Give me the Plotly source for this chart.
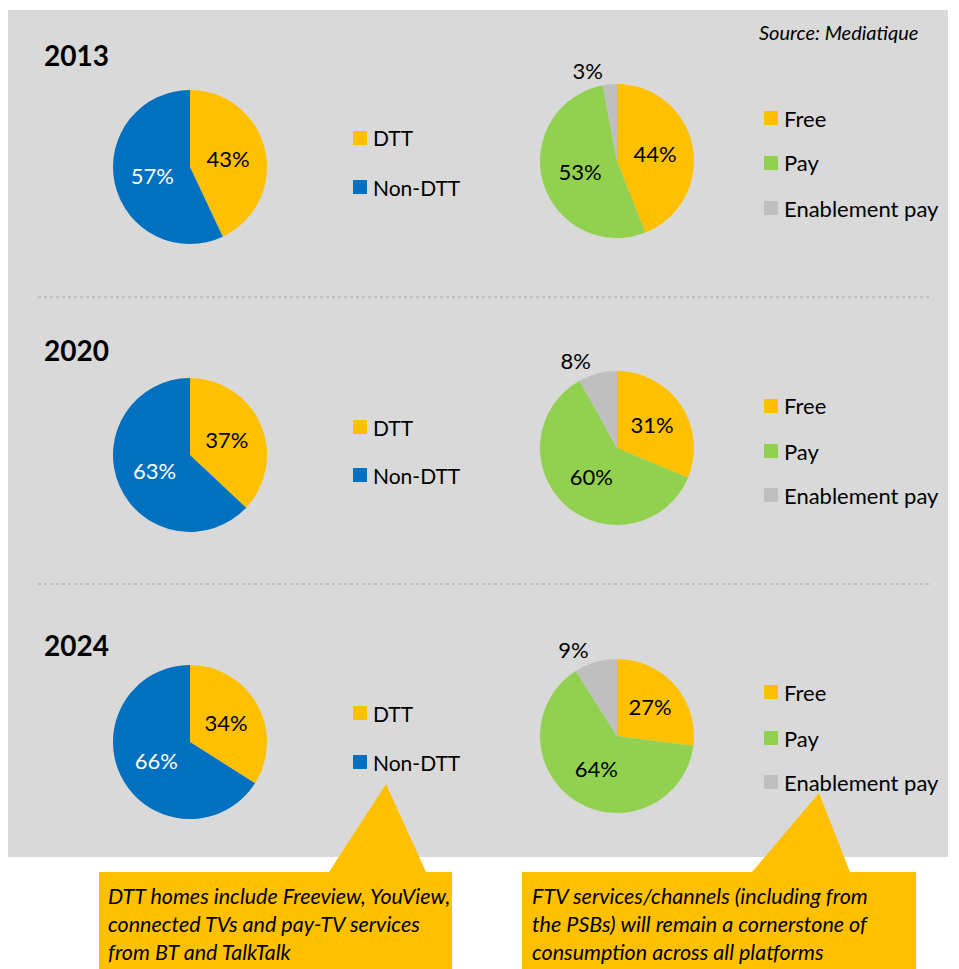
import plotly.graph_objects as go

# data
years = ['2013', '2020', '2024']
platform_labels = ['DTT', 'Non-DTT']
dtt_share = [43, 37, 34]
non_dtt_share = [57, 63, 66]
service_labels = ['Free', 'Pay', 'Enablement pay']
free_share = [44, 31, 27]
pay_share = [53, 60, 64]
enablement_share = [3, 8, 9]

source_note = 'Source: Mediatique'
callout_left = ['DTT homes include Freeview, YouView,',
                'connected TVs and pay-TV services',
                'from BT and TalkTalk']
callout_right = ['FTV services/channels (including from',
                 'the PSBs) will remain a cornerstone of',
                 'consumption across all platforms']

# page body has an 8px margin, so the figure is a bit smaller than the window
OFF = 8
W, H = 951, 961
FONT = 'Lato'
GOLD = '#FFC000'
BLUE = '#0070C0'
GREEN = '#92D050'
GREY = '#BFBFBF'
platform_colors = [GOLD, BLUE]
service_colors = [GOLD, GREEN, GREY]


def px(x):
    return (x - OFF) / W


def py(y):
    return 1 - (y - OFF) / H


# panel positions in window pixels
year_y = [55, 350, 645]
left_cy = [167, 455, 742]
right_cy = [161, 448, 736]
left_cx, right_cx, R = 190, 617, 77
left_leg_y = [[138, 187], [427, 475], [713, 762]]
right_leg_y = [[118, 163, 208], [406, 451, 495], [692, 738, 782]]

fig = go.Figure()
shapes = []
annotations = []

# grey panel background
shapes.append(dict(type='rect', xref='paper', yref='paper', layer='below',
                   x0=px(8), x1=px(948), y0=py(857), y1=py(10),
                   fillcolor='#D9D9D9', line=dict(width=0)))
for sep in [297, 584]:
    shapes.append(dict(type='line', xref='paper', yref='paper', layer='below',
                       x0=px(38), x1=px(930), y0=py(sep), y1=py(sep),
                       line=dict(color='#A6A6A6', width=1, dash='dot')))

for i, yr in enumerate(years):
    fig.add_trace(go.Pie(
        labels=platform_labels, values=[dtt_share[i], non_dtt_share[i]],
        sort=False, direction='clockwise', rotation=0,
        marker=dict(colors=platform_colors, line=dict(width=0)),
        texttemplate='%{value}%', textposition='inside',
        insidetextorientation='horizontal',
        textfont=dict(family=FONT, size=22, color=['black', 'white']),
        domain=dict(x=[px(left_cx - R), px(left_cx + R)],
                    y=[py(left_cy[i] + R), py(left_cy[i] - R)]),
        hoverinfo='skip', showlegend=False))
    fig.add_trace(go.Pie(
        labels=service_labels,
        values=[free_share[i], pay_share[i], enablement_share[i]],
        sort=False, direction='clockwise', rotation=0,
        marker=dict(colors=service_colors, line=dict(width=0)),
        texttemplate='%{value}%', textposition=['inside', 'inside', 'outside'],
        insidetextorientation='horizontal',
        textfont=dict(family=FONT, size=22, color='black'),
        domain=dict(x=[px(right_cx - R), px(right_cx + R)],
                    y=[py(right_cy[i] + R), py(right_cy[i] - R)]),
        hoverinfo='skip', showlegend=False))

    annotations.append(dict(text='<b>%s</b>' % yr, x=px(42), y=py(year_y[i]),
                            xanchor='left', yanchor='middle', showarrow=False,
                            font=dict(family=FONT, size=28, color='black')))

    # legends
    for lab, col, ly in zip(platform_labels, platform_colors, left_leg_y[i]):
        shapes.append(dict(type='rect', xref='paper', yref='paper',
                           x0=px(353), x1=px(367), y0=py(ly + 7), y1=py(ly - 7),
                           fillcolor=col, line=dict(width=0)))
        annotations.append(dict(text=lab, x=px(371), y=py(ly), xanchor='left',
                                yanchor='middle', showarrow=False,
                                font=dict(family=FONT, size=21, color='black')))
    for lab, col, ly in zip(service_labels, service_colors, right_leg_y[i]):
        shapes.append(dict(type='rect', xref='paper', yref='paper',
                           x0=px(764), x1=px(778), y0=py(ly + 7), y1=py(ly - 7),
                           fillcolor=col, line=dict(width=0)))
        annotations.append(dict(text=lab, x=px(782), y=py(ly), xanchor='left',
                                yanchor='middle', showarrow=False,
                                font=dict(family=FONT, size=22, color='black')))


# callout boxes
def callout(pts):
    d = 'M ' + ' L '.join('%f,%f' % (px(x), py(y)) for x, y in pts) + ' Z'
    return dict(type='path', xref='paper', yref='paper', path=d,
                fillcolor=GOLD, line=dict(width=0))


shapes.append(callout([(99, 872), (329, 872), (386, 784), (426, 872), (452, 872),
                       (452, 975), (99, 975)]))
shapes.append(callout([(522, 872), (752, 872), (819, 793), (850, 872), (916, 872),
                       (916, 975), (522, 975)]))

annotations.append(dict(text='<i>' + '<br>'.join(callout_left) + '</i>',
                        x=px(106), y=py(881), xanchor='left', yanchor='top',
                        align='left', showarrow=False,
                        font=dict(family=FONT, size=21.5, color='black')))
annotations.append(dict(text='<i>' + '<br>'.join(callout_right) + '</i>',
                        x=px(530), y=py(881), xanchor='left', yanchor='top',
                        align='left', showarrow=False,
                        font=dict(family=FONT, size=21.5, color='black')))
annotations.append(dict(text='<i>%s</i>' % source_note, x=px(920), y=py(32),
                        xanchor='right', yanchor='middle', showarrow=False,
                        font=dict(family=FONT, size=20, color='black')))

fig.update_layout(width=W, height=H, margin=dict(l=0, r=0, t=0, b=0),
                  paper_bgcolor='white', plot_bgcolor='white',
                  shapes=shapes, annotations=annotations,
                  font=dict(family=FONT))
fig.write_html('out.html')
